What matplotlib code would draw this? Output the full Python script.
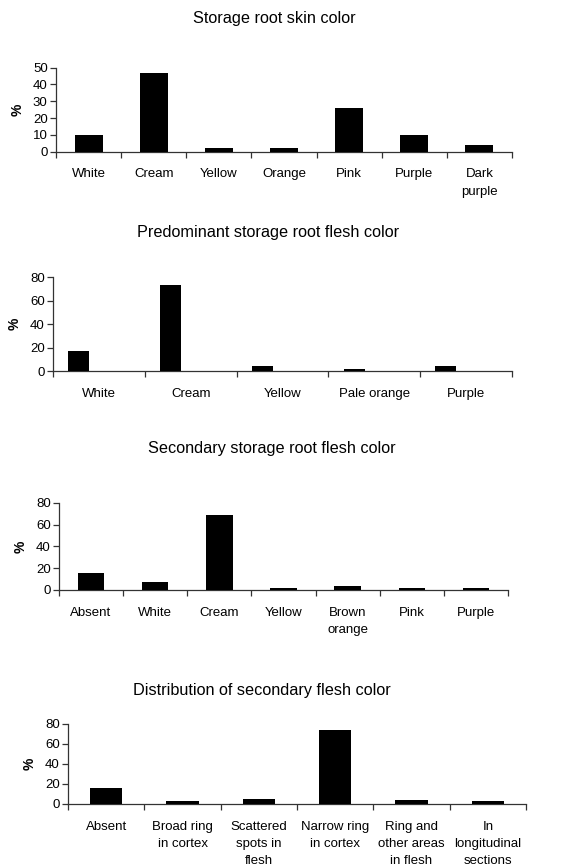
import matplotlib
matplotlib.use('Agg')
import matplotlib.pyplot as plt
import numpy as np
from matplotlib.patches import Rectangle

plt.rcParams['font.family'] = ['Liberation Sans', 'DejaVu Sans']

# data (%)
skin_cats = ['White', 'Cream', 'Yellow', 'Orange', 'Pink', 'Purple', 'Dark\npurple']
skin_vals = [10, 47, 2, 2, 26, 10, 4]

pred_cats = ['White', 'Cream', 'Yellow', 'Pale orange', 'Purple']
pred_vals = [17.3, 73.4, 4.3, 2, 4.3]

sec_cats = ['Absent', 'White', 'Cream', 'Yellow', 'Brown\norange', 'Pink', 'Purple']
sec_vals = [15.3, 7, 68.7, 2, 4, 2, 2]

dist_cats = ['Absent', 'Broad ring\nin cortex', 'Scattered\nspots in\nflesh', 'Narrow ring\nin cortex',
             'Ring and\nother areas\nin flesh', 'In\nlongitudinal\nsections']
dist_vals = [16, 3, 4.7, 74, 4.5, 3]

W, H = 567, 868
fig = plt.figure(figsize=(W / 100, H / 100), dpi=100)
ax_col = '#333333'


def panel(px, title, title_xy, cats, vals, ymax, ystep, width, shift=0.0):
    # px = left, right, top, bottom in pixels
    l, r, t, b = px
    ax = fig.add_axes([l / W, 1 - b / H, (r - l) / W, (b - t) / H])
    n = len(cats)
    x = np.arange(n)
    ax.bar(x + shift, vals, width=width, color='black', zorder=3)
    ax.set_xlim(-0.5, n - 0.5)
    ax.set_ylim(0, ymax)
    ax.set_yticks(np.arange(0, ymax + 1, ystep))
    # boundaries carry the tick marks, centres carry the labels
    ax.set_xticks(np.arange(n + 1) - 0.5)
    ax.set_xticklabels([])
    ax.set_xticks(x, minor=True)
    ax.set_xticklabels(cats, minor=True, fontsize=9.5, linespacing=1.6, va='top')
    ax.tick_params(axis='x', which='major', length=4, width=0.9, color=ax_col, direction='out')
    ax.tick_params(axis='x', which='minor', length=0, pad=12)
    ax.tick_params(axis='y', length=4, width=0.9, color=ax_col, labelsize=9.5, pad=2)
    for s in ['top', 'right']:
        ax.spines[s].set_visible(False)
    for s in ['left', 'bottom']:
        ax.spines[s].set_color(ax_col)
        ax.spines[s].set_linewidth(0.9)
    ax.set_ylabel('%', fontsize=10, fontweight='bold', labelpad=6)
    fig.text(title_xy[0] / W, 1 - title_xy[1] / H, title, ha='center', va='center', fontsize=11.7)
    return ax


panel((56, 512, 67.5, 151.7), 'Storage root skin color', (274, 18), skin_cats, skin_vals, 50, 10, 0.43)
panel((53, 512, 277.3, 371), 'Predominant storage root flesh color', (268, 232), pred_cats, pred_vals, 80, 20, 0.23, shift=-0.22)
panel((59, 508, 502.7, 590), 'Secondary storage root flesh color', (272, 448), sec_cats, sec_vals, 80, 20, 0.41)
panel((68, 526, 724, 804), 'Distribution of secondary flesh color', (262, 691), dist_cats, dist_vals, 80, 20, 0.42)

# the original cuts the first chart's labels off just under "purple"
fig.add_artist(Rectangle((0, 1 - 212 / H), 1, 13 / H, transform=fig.transFigure,
                         facecolor='white', edgecolor='none', zorder=10))

fig.savefig('out.png', dpi=100)
